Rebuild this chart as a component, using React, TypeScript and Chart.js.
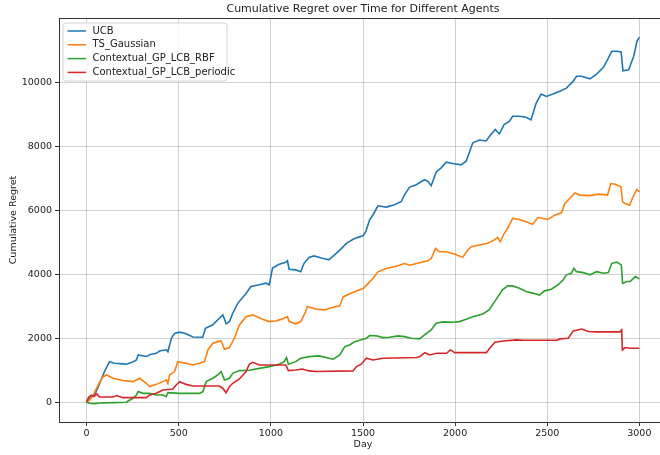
import React, { useEffect, useRef } from "react";
import { Chart, registerables } from "chart.js";

Chart.register(...registerables);

const FONT = "'DejaVu Sans', sans-serif";
const chartTitle = "Cumulative Regret over Time for Different Agents";
const xLabel = "Day";
const yLabel = "Cumulative Regret";
const seriesNames = ["UCB", "TS_Gaussian", "Contextual_GP_LCB_RBF", "Contextual_GP_LCB_periodic"];
const seriesColors = ["#1f77b4", "#ff7f0e", "#2ca02c", "#d62728"];
const xTicks = [0, 500, 1000, 1500, 2000, 2500, 3000];
const yTicks = [0, 2000, 4000, 6000, 8000, 10000];

const ucbDays = [0, 20, 45, 65, 82, 100, 124, 150, 200, 216, 250, 270, 280, 324, 350, 378, 396, 432, 441, 460, 477, 505, 540, 577, 630, 645, 685, 720, 739, 748, 757, 775, 793, 820, 865, 892, 937, 973, 991, 1009, 1045, 1081, 1090, 1099, 1135, 1162, 1180, 1207, 1234, 1279, 1315, 1374, 1410, 1446, 1473, 1500, 1515, 1536, 1554, 1581, 1626, 1671, 1708, 1725, 1753, 1789, 1834, 1852, 1870, 1897, 1924, 1951, 1987, 2032, 2060, 2096, 2132, 2168, 2195, 2218, 2240, 2266, 2294, 2312, 2349, 2385, 2412, 2440, 2467, 2495, 2531, 2568, 2604, 2640, 2659, 2686, 2732, 2768, 2805, 2823, 2850, 2878, 2901, 2911, 2942, 2969, 2987, 3000];
const ucbValues = [0, 150, 250, 500, 750, 1000, 1270, 1220, 1200, 1190, 1260, 1320, 1480, 1430, 1500, 1530, 1600, 1640, 1580, 2000, 2150, 2190, 2140, 2040, 2030, 2310, 2420, 2625, 2730, 2600, 2450, 2520, 2780, 3090, 3400, 3615, 3670, 3720, 3670, 4190, 4310, 4375, 4420, 4155, 4135, 4080, 4340, 4520, 4570, 4500, 4450, 4754, 4963, 5090, 5150, 5200, 5330, 5700, 5850, 6135, 6095, 6170, 6270, 6480, 6720, 6795, 6950, 6900, 6765, 7185, 7320, 7500, 7455, 7415, 7530, 8105, 8190, 8160, 8370, 8520, 8380, 8670, 8770, 8930, 8930, 8900, 8820, 9345, 9625, 9550, 9625, 9710, 9810, 10020, 10180, 10180, 10100, 10250, 10460, 10650, 10960, 10960, 10940, 10350, 10385, 10800, 11270, 11400];

const tsDays = [0, 20, 36, 55, 72, 90, 108, 144, 198, 252, 288, 324, 342, 378, 414, 432, 441, 450, 477, 495, 540, 577, 613, 640, 658, 685, 712, 730, 748, 775, 802, 829, 865, 901, 955, 991, 1027, 1063, 1090, 1099, 1135, 1162, 1189, 1198, 1243, 1290, 1338, 1374, 1392, 1428, 1464, 1500, 1527, 1554, 1581, 1626, 1680, 1725, 1753, 1807, 1852, 1870, 1894, 1915, 1951, 1996, 2041, 2069, 2087, 2132, 2177, 2213, 2231, 2245, 2266, 2285, 2312, 2349, 2385, 2421, 2449, 2476, 2504, 2540, 2577, 2595, 2622, 2650, 2677, 2732, 2777, 2827, 2845, 2869, 2900, 2909, 2923, 2947, 2969, 2987, 3000];
const tsValues = [0, 100, 230, 450, 645, 800, 855, 750, 680, 645, 750, 595, 490, 560, 645, 700, 590, 855, 960, 1270, 1220, 1165, 1220, 1270, 1635, 1845, 1895, 1915, 1655, 1710, 2000, 2415, 2675, 2730, 2595, 2520, 2540, 2605, 2675, 2520, 2450, 2520, 2835, 2990, 2915, 2885, 2970, 3010, 3290, 3390, 3475, 3550, 3705, 3865, 4075, 4180, 4250, 4335, 4280, 4355, 4420, 4490, 4805, 4700, 4700, 4630, 4525, 4755, 4860, 4910, 4965, 5070, 5150, 5010, 5270, 5430, 5740, 5710, 5635, 5555, 5770, 5740, 5710, 5845, 5915, 6210, 6365, 6540, 6470, 6455, 6500, 6470, 6830, 6810, 6730, 6260, 6210, 6155, 6465, 6645, 6570];

const rbfDays = [0, 18, 40, 72, 150, 216, 225, 252, 270, 279, 306, 342, 378, 414, 432, 441, 505, 613, 631, 649, 685, 712, 730, 748, 775, 793, 829, 883, 937, 991, 1045, 1072, 1085, 1095, 1135, 1162, 1207, 1261, 1315, 1338, 1374, 1401, 1428, 1455, 1491, 1518, 1536, 1572, 1608, 1644, 1690, 1725, 1762, 1807, 1834, 1870, 1897, 1933, 1987, 2023, 2060, 2096, 2150, 2184, 2221, 2257, 2285, 2312, 2349, 2385, 2421, 2458, 2485, 2522, 2558, 2586, 2604, 2631, 2644, 2659, 2695, 2732, 2768, 2805, 2832, 2850, 2878, 2902, 2909, 2932, 2950, 2978, 3000];
const rbfValues = [0, -30, -40, -20, -10, 0, 40, 125, 230, 335, 280, 280, 230, 230, 175, 300, 280, 280, 335, 645, 750, 855, 960, 700, 750, 905, 990, 1000, 1060, 1115, 1190, 1270, 1395, 1190, 1270, 1375, 1425, 1450, 1375, 1345, 1480, 1740, 1790, 1895, 1950, 2000, 2085, 2075, 2020, 2030, 2075, 2050, 2000, 1980, 2105, 2260, 2470, 2510, 2500, 2520, 2595, 2675, 2760, 2885, 3200, 3510, 3635, 3635, 3560, 3460, 3410, 3350, 3480, 3530, 3665, 3820, 3980, 4030, 4185, 4080, 4050, 3980, 4080, 4030, 4050, 4340, 4375, 4290, 3715, 3770, 3770, 3925, 3855];

const perDays = [0, 10, 25, 40, 55, 70, 90, 144, 162, 198, 324, 342, 378, 414, 468, 486, 505, 540, 577, 720, 739, 757, 775, 793, 829, 865, 883, 901, 937, 1081, 1095, 1135, 1171, 1207, 1243, 1446, 1464, 1491, 1518, 1554, 1609, 1790, 1808, 1835, 1862, 1899, 1953, 1975, 1998, 2170, 2188, 2216, 2261, 2333, 2370, 2551, 2569, 2614, 2641, 2687, 2723, 2768, 2895, 2904, 2908, 2922, 2949, 3000];
const perValues = [0, 150, 220, 180, 260, 170, 165, 165, 210, 145, 145, 230, 280, 385, 415, 540, 645, 560, 510, 510, 440, 300, 490, 595, 730, 960, 1190, 1250, 1165, 1165, 990, 1010, 1040, 980, 960, 980, 1115, 1190, 1375, 1320, 1375, 1400, 1425, 1550, 1480, 1530, 1530, 1635, 1550, 1550, 1690, 1875, 1915, 1950, 1940, 1940, 1980, 2000, 2230, 2290, 2210, 2200, 2200, 2260, 1635, 1710, 1690, 1690];

const seriesDays = [ucbDays, tsDays, rbfDays, perDays];
const seriesValues = [ucbValues, tsValues, rbfValues, perValues];

const decorPlugin = {
  id: "decor",
  afterDraw(chart: any) {
    const { ctx, chartArea: a } = chart;
    ctx.save();
    ctx.strokeStyle = "#333";
    ctx.lineWidth = 1;
    ctx.beginPath();
    ctx.moveTo(a.left, a.top + 0.5);
    ctx.lineTo(a.right, a.top + 0.5);
    ctx.moveTo(a.right - 0.5, a.top);
    ctx.lineTo(a.right - 0.5, a.bottom);
    ctx.stroke();

    ctx.fillStyle = "#222";
    ctx.textAlign = "center";
    ctx.textBaseline = "middle";
    ctx.font = `11px ${FONT}`;
    ctx.fillText(chartTitle, (a.left + a.right) / 2, 9);
    ctx.font = `9.5px ${FONT}`;
    ctx.fillText(xLabel, (a.left + a.right) / 2, 445);
    ctx.save();
    ctx.translate(14, (a.top + a.bottom) / 2);
    ctx.rotate(-Math.PI / 2);
    ctx.fillText(yLabel, 0, 0);
    ctx.restore();

    // legend
    const bx = 63, by = 23, bw = 164, bh = 58, r = 3;
    ctx.beginPath();
    ctx.moveTo(bx + r, by);
    ctx.lineTo(bx + bw - r, by);
    ctx.quadraticCurveTo(bx + bw, by, bx + bw, by + r);
    ctx.lineTo(bx + bw, by + bh - r);
    ctx.quadraticCurveTo(bx + bw, by + bh, bx + bw - r, by + bh);
    ctx.lineTo(bx + r, by + bh);
    ctx.quadraticCurveTo(bx, by + bh, bx, by + bh - r);
    ctx.lineTo(bx, by + r);
    ctx.quadraticCurveTo(bx, by, bx + r, by);
    ctx.closePath();
    ctx.fillStyle = "rgba(255,255,255,0.85)";
    ctx.fill();
    ctx.strokeStyle = "#d5d5d5";
    ctx.stroke();
    ctx.font = `10px ${FONT}`;
    ctx.textAlign = "left";
    seriesNames.forEach((name, i) => {
      const y = 31 + i * 13.8;
      ctx.strokeStyle = seriesColors[i];
      ctx.lineWidth = 1.5;
      ctx.beginPath();
      ctx.moveTo(67.5, y);
      ctx.lineTo(86, y);
      ctx.stroke();
      ctx.fillStyle = "#222";
      ctx.fillText(name, 92.5, y);
    });
    ctx.restore();
  },
};

export default function App() {
  const ref = useRef<HTMLCanvasElement>(null);
  useEffect(() => {
    if (!ref.current) return;
    const datasets = seriesNames.map((name, i) => ({
      label: name,
      data: seriesDays[i].map((d, j) => ({ x: d, y: seriesValues[i][j] })),
      borderColor: seriesColors[i],
      backgroundColor: seriesColors[i],
      borderWidth: 1.6,
      pointRadius: 0,
      tension: 0,
      fill: false,
      order: 3 - i,
    }));
    const tickFont = { family: FONT, size: 9.5 };
    const chart = new Chart(ref.current, {
      type: "line",
      data: { datasets },
      options: {
        animation: false,
        responsive: false,
        events: [],
        layout: { padding: { top: 18, right: 1, left: 0, bottom: 0 } },
        plugins: { legend: { display: false }, tooltip: { enabled: false }, title: { display: false } },
        scales: {
          x: {
            type: "linear",
            min: -150,
            max: 3150,
            afterBuildTicks: (s: any) => {
              s.ticks = xTicks.map((v) => ({ value: v }));
            },
            afterFit: (s: any) => {
              s.height = 33;
            },
            grid: { color: "rgba(176,176,176,0.6)", lineWidth: 1, tickLength: 4, tickColor: "#333" },
            border: { color: "#333", width: 1 },
            ticks: { font: tickFont, color: "#222", padding: 2, maxRotation: 0, autoSkip: false, callback: (v: any) => String(v) },
          },
          y: {
            type: "linear",
            min: -615,
            max: 12000,
            afterBuildTicks: (s: any) => {
              s.ticks = yTicks.map((v) => ({ value: v }));
            },
            afterFit: (s: any) => {
              s.width = 59;
            },
            grid: { color: "rgba(176,176,176,0.6)", lineWidth: 1, tickLength: 4, tickColor: "#333" },
            border: { color: "#333", width: 1 },
            ticks: { font: tickFont, color: "#222", padding: 3, autoSkip: false, callback: (v: any) => String(v) },
          },
        },
      },
      plugins: [decorPlugin],
    });
    return () => chart.destroy();
  }, []);
  return (
    <div style={{ position: "fixed", left: 0, top: 0, width: 660, height: 455, overflow: "hidden", background: "#fff" }}>
      <canvas ref={ref} width={668} height={455} style={{ width: 668, height: 455, display: "block" }} />
    </div>
  );
}
